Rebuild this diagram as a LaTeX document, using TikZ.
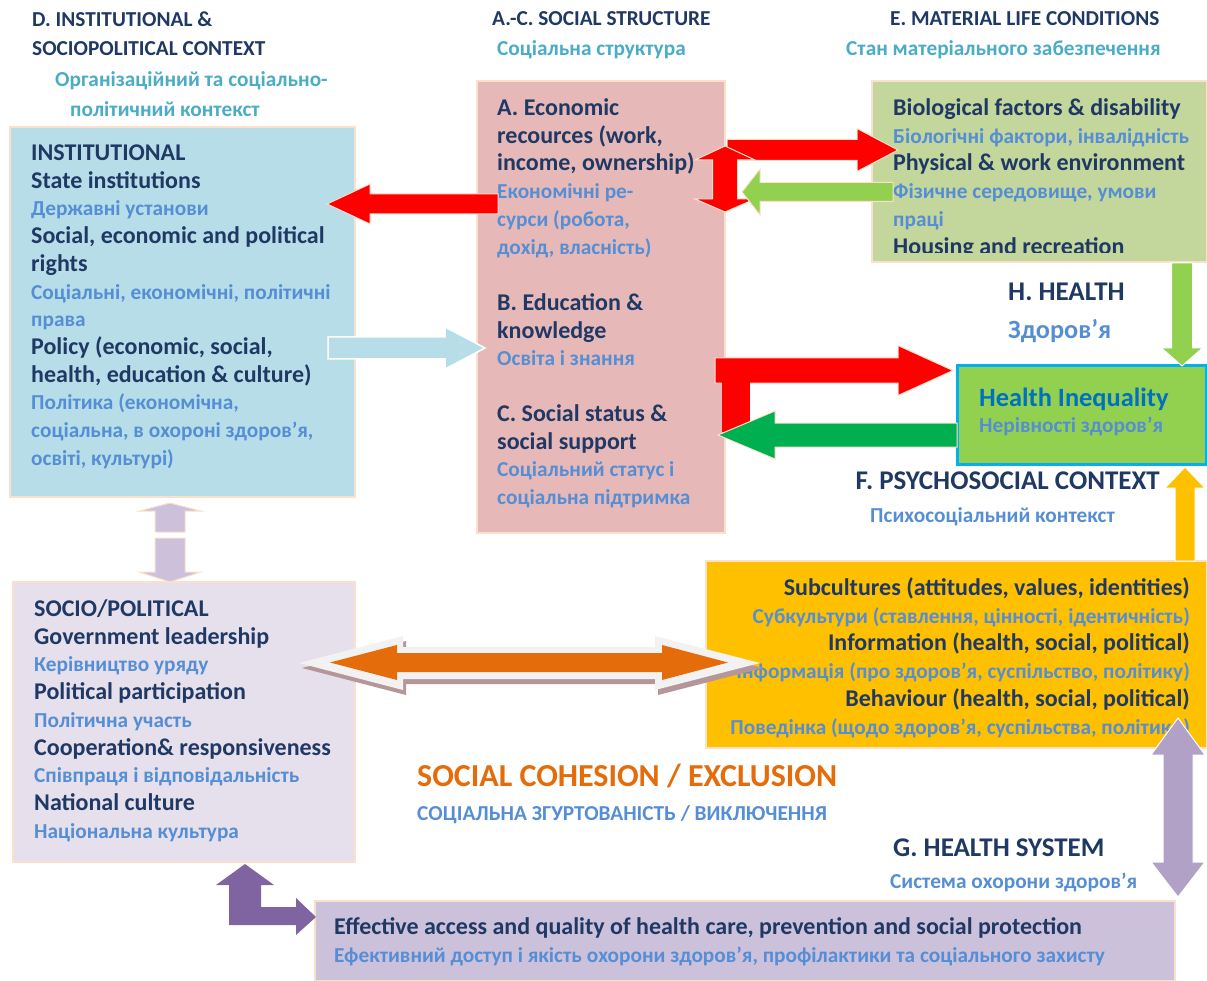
\documentclass[tikz,border=0pt]{standalone}
\usepackage{fontspec}
\setmainfont{Carlito}
\usepackage{tikz}

\definecolor{navy}{HTML}{1F3864}
\definecolor{ukblue}{HTML}{558ED5}
\definecolor{teal}{HTML}{4BACC6}
\definecolor{peach}{HTML}{FBE0CC}
\definecolor{instblue}{HTML}{B7DEE8}
\definecolor{socpink}{HTML}{E6B9B8}
\definecolor{matgreen}{HTML}{C3D69B}
\definecolor{hgreen}{HTML}{92D050}
\definecolor{hborder}{HTML}{00B0F0}
\definecolor{dgreen}{HTML}{00B050}
\definecolor{subor}{HTML}{FFC000}
\definecolor{sociolav}{HTML}{E5E0EC}
\definecolor{hsyslav}{HTML}{CCC1DA}
\definecolor{lavarrow}{HTML}{CCC0DA}
\definecolor{rlavarrow}{HTML}{B2A1C7}
\definecolor{purplearrow}{HTML}{8064A2}
\definecolor{cohesion}{HTML}{E46C0A}
\definecolor{hineq}{HTML}{0070C0}
\definecolor{shadowc}{HTML}{B5979A}

% one line of english / ukrainian text
\newcommand\enl[1]{\strut\textcolor{navy}{#1}}
\newcommand\ual[1]{\strut{\fontsize{21.3}{27.7}\selectfont\textcolor{ukblue}{#1}}}

% block arrows: style, tail, head base, tip, axis, shaft half, head half
\newcommand\sglh[7]{\path[#1] (#2,#5-#6) -- (#3,#5-#6) -- (#3,#5-#7) -- (#4,#5)
  -- (#3,#5+#7) -- (#3,#5+#6) -- (#2,#5+#6) -- cycle;}
\newcommand\sglv[7]{\path[#1] (#5-#6,#2) -- (#5-#6,#3) -- (#5-#7,#3) -- (#5,#4)
  -- (#5+#7,#3) -- (#5+#6,#3) -- (#5+#6,#2) -- cycle;}
% double block arrows: style, tip1, base1, base2, tip2, axis, shaft half, head half
\newcommand\dblh[8]{\path[#1] (#2,#6) -- (#3,#6-#8) -- (#3,#6-#7) -- (#4,#6-#7)
  -- (#4,#6-#8) -- (#5,#6) -- (#4,#6+#8) -- (#4,#6+#7) -- (#3,#6+#7) -- (#3,#6+#8) -- cycle;}
\newcommand\dblv[8]{\path[#1] (#6,#2) -- (#6-#8,#3) -- (#6-#7,#3) -- (#6-#7,#4)
  -- (#6-#8,#4) -- (#6,#5) -- (#6+#8,#4) -- (#6+#7,#4) -- (#6+#7,#3) -- (#6+#8,#3) -- cycle;}

\begin{document}
\begin{tikzpicture}[x=1pt,y=-1pt,
    box/.style={draw=peach, line width=1.5pt},
    txt/.style={inner sep=0pt, align=left, font=\bfseries\fontsize{24}{27.7}\selectfont},
    ttl/.style={inner sep=0pt, anchor=base west, text=navy, font=\bfseries\fontsize{21.3}{24}\selectfont},
    ukttl/.style={inner sep=0pt, anchor=base west, text=teal, font=\bfseries\fontsize{21.3}{24}\selectfont},
    hd/.style={inner sep=0pt, anchor=base west, text=navy, font=\bfseries\fontsize{27}{30}\selectfont},
    ukhd/.style={inner sep=0pt, anchor=base west, text=ukblue, font=\bfseries\fontsize{21.3}{24}\selectfont},
    redarr/.style={fill=red, draw=peach, line width=1pt},
    bluearr/.style={fill=instblue, draw=white, line width=1.5pt},
    greenarr/.style={fill=hgreen, draw=peach, line width=1pt},
    dgreenarr/.style={fill=dgreen, draw=peach, line width=1pt},
    yellowarr/.style={fill=subor, draw=white, line width=1pt},
    lavarr/.style={fill=lavarrow, draw=peach, line width=1pt},
    rlavarr/.style={fill=rlavarrow, draw=white, line width=1pt}]
  \useasboundingbox (0,0) rectangle (1207,981);

  % titles
  \node[ttl] (dtitle) at (32,27) {D. INSTITUTIONAL \&};
  \node[ttl] (dtitleb) at (32,56) {SOCIOPOLITICAL CONTEXT};
  \node[ukttl] (dua) at (55,87) {Організаційний та соціально-};
  \node[ukttl] (duab) at (70,117) {політичний контекст};
  \node[ttl] (actitle) at (492,26) {A.-C. SOCIAL STRUCTURE};
  \node[ukttl] (acua) at (497,56) {Соціальна структура};
  \node[ttl] (etitle) at (890,26) {E. MATERIAL LIFE CONDITIONS};
  \node[ukttl] (eua) at (846,56) {Стан матеріального забезпечення};

  % boxes
  \path[box, fill=instblue] (10,127) rectangle (355,497);
  \path[box, fill=socpink] (477,81) rectangle (725,533);
  \path[box, fill=matgreen] (872,81) rectangle (1207,262);
  \path[fill=hgreen, draw=hborder, line width=3pt] (957,366) rectangle (1206,464);
  \path[box, fill=subor] (706,561) rectangle (1207,748);
  \path[box, fill=sociolav] (13,582) rectangle (355,862);
  \path[box, fill=hsyslav] (315,901) rectangle (1175,981);

  % box texts
  \node[txt, anchor=north west] (inst) at (31,141) {\enl{INSTITUTIONAL}\\
    \enl{State institutions}\\ \ual{Державні установи}\\
    \enl{Social, economic and political}\\ \enl{rights}\\
    \ual{Соціальні, економічні, політичні}\\ \ual{права}\\
    \enl{Policy (economic, social,}\\ \enl{health, education \& culture)}\\
    \ual{Політика (економічна,}\\ \ual{соціальна, в охороні здоров'я,}\\
    \ual{освіті, культурі)}};
  \node[txt, anchor=north west] (econ) at (497,96) {\enl{A. Economic}\\
    \enl{recources (work,}\\ \enl{income, ownership)}\\
    \ual{Економічні ре-}\\ \ual{сурси (робота,}\\ \ual{дохід, власність)}};
  \node[txt, anchor=north west] (educ) at (497,291) {\enl{B. Education \&}\\
    \enl{knowledge}\\ \ual{Освіта і знання}};
  \node[txt, anchor=north west] (status) at (497,402) {\enl{C. Social status \&}\\
    \enl{social support}\\ \ual{Соціальний статус і}\\ \ual{соціальна підтримка}};
  \begin{scope}
    \clip (872,81) rectangle (1207,253);
    \node[txt, anchor=north west] (mat) at (893,96) {\enl{Biological factors \& disability}\\
      \ual{Біологічні фактори, інвалідність}\\ \enl{Physical \& work environment}\\
      \ual{Фізичне середовище, умови}\\ \ual{праці}\\ \enl{Housing and recreation}};
  \end{scope}
  \node[txt, align=right, anchor=north east] (subc) at (1190,576) {%
    \enl{Subcultures (attitudes, values, identities)}\\
    \ual{Субкультури (ставлення, цінності, ідентичність)}\\
    \enl{Information (health, social, political)}\\
    \ual{Інформація (про здоров’я, суспільство, політику)}\\
    \enl{Behaviour (health, social, political)}\\
    \ual{Поведінка (щодо здоров’я, суспільства, політики)}};
  \node[txt, anchor=north west] (socio) at (34,597) {\enl{SOCIO/POLITICAL}\\
    \enl{Government leadership}\\ \ual{Керівництво уряду}\\
    \enl{Political participation}\\ \ual{Політична участь}\\
    \enl{Cooperation\& responsiveness}\\ \ual{Співпраця і відповідальність}\\
    \enl{National culture}\\ \ual{Національна культура}};
  \node[txt, anchor=north west] (hsys) at (334,915) {%
    \enl{Effective access and quality of health care, prevention and social protection}\\
    \ual{Ефективний доступ і якість охорони здоров’я, профілактики та соціального захисту}};

  % health and other headings
  \node[hd] (health) at (1008,301) {H. HEALTH};
  \node[ukhd, font=\bfseries\fontsize{26.3}{30}\selectfont] (healthua) at (1008,339) {Здоров’я};
  \node[hd, text=hineq, font=\bfseries\fontsize{26.4}{30}\selectfont] (hineq) at (979,406) {Health Inequality};
  \node[ukhd] (hinequa) at (979,432) {Нерівності здоров’я};
  \node[hd, anchor=base east] (psych) at (1160,489) {F. PSYCHOSOCIAL CONTEXT};
  \node[ukhd] (psychua) at (870,522) {Психосоціальний контекст};
  \node[hd, text=cohesion, font=\bfseries\fontsize{32}{36}\selectfont] (cohes) at (417,786) {SOCIAL COHESION / EXCLUSION};
  \node[ukhd] (cohesua) at (417,820) {СОЦІАЛЬНА ЗГУРТОВАНІСТЬ / ВИКЛЮЧЕННЯ};
  \node[hd] (hsystitle) at (893,856) {G. HEALTH SYSTEM};
  \node[ukhd] (hsysua) at (890,888) {Система охорони здоров’я};

  % arrows
  \sglh{redarr}{498}{370}{327}{204}{10}{20}
  \sglh{bluearr}{328}{445}{485}{348}{11}{21}
  \sglh{redarr}{727}{857}{898}{150}{10.5}{21.5}
  \dblv{redarr}{146}{160}{199}{212}{725}{12.5}{30}
  \sglh{greenarr}{893}{760}{742}{192}{9.5}{23}
  \sglh{redarr}{715}{898}{953}{370.5}{12.5}{25}
  \fill[red] (722,380) rectangle (750,432);
  \sglh{dgreenarr}{957}{775}{718}{435}{12}{24}
  \sglv{greenarr, draw=white}{263}{348}{366}{1182}{10.5}{20.5}
  \sglv{yellowarr}{561}{488}{467}{1185}{10}{20}
  \sglv{lavarr}{532}{511}{503}{170}{15}{31}
  \sglv{lavarr}{538}{572}{582}{170}{15}{31}
  \dblh{fill=shadowc}{302}{406}{658}{763}{668}{16}{27}
  \dblh{fill=black!5}{299}{403}{655}{760}{663}{16}{27}
  \dblh{fill=cohesion}{330}{397}{662}{728}{662.5}{9.5}{17.5}
  \dblv{rlavarr}{718}{755}{862}{897}{1178}{15}{27}
  \fill[purplearrow] (229,885) -- (216,885) -- (245,864) -- (274,885) -- (261,885)
    -- (261,907) -- (296,907) -- (296,898) -- (316,917) -- (296,935) -- (296,925)
    -- (229,925) -- cycle;
\end{tikzpicture}
\end{document}
